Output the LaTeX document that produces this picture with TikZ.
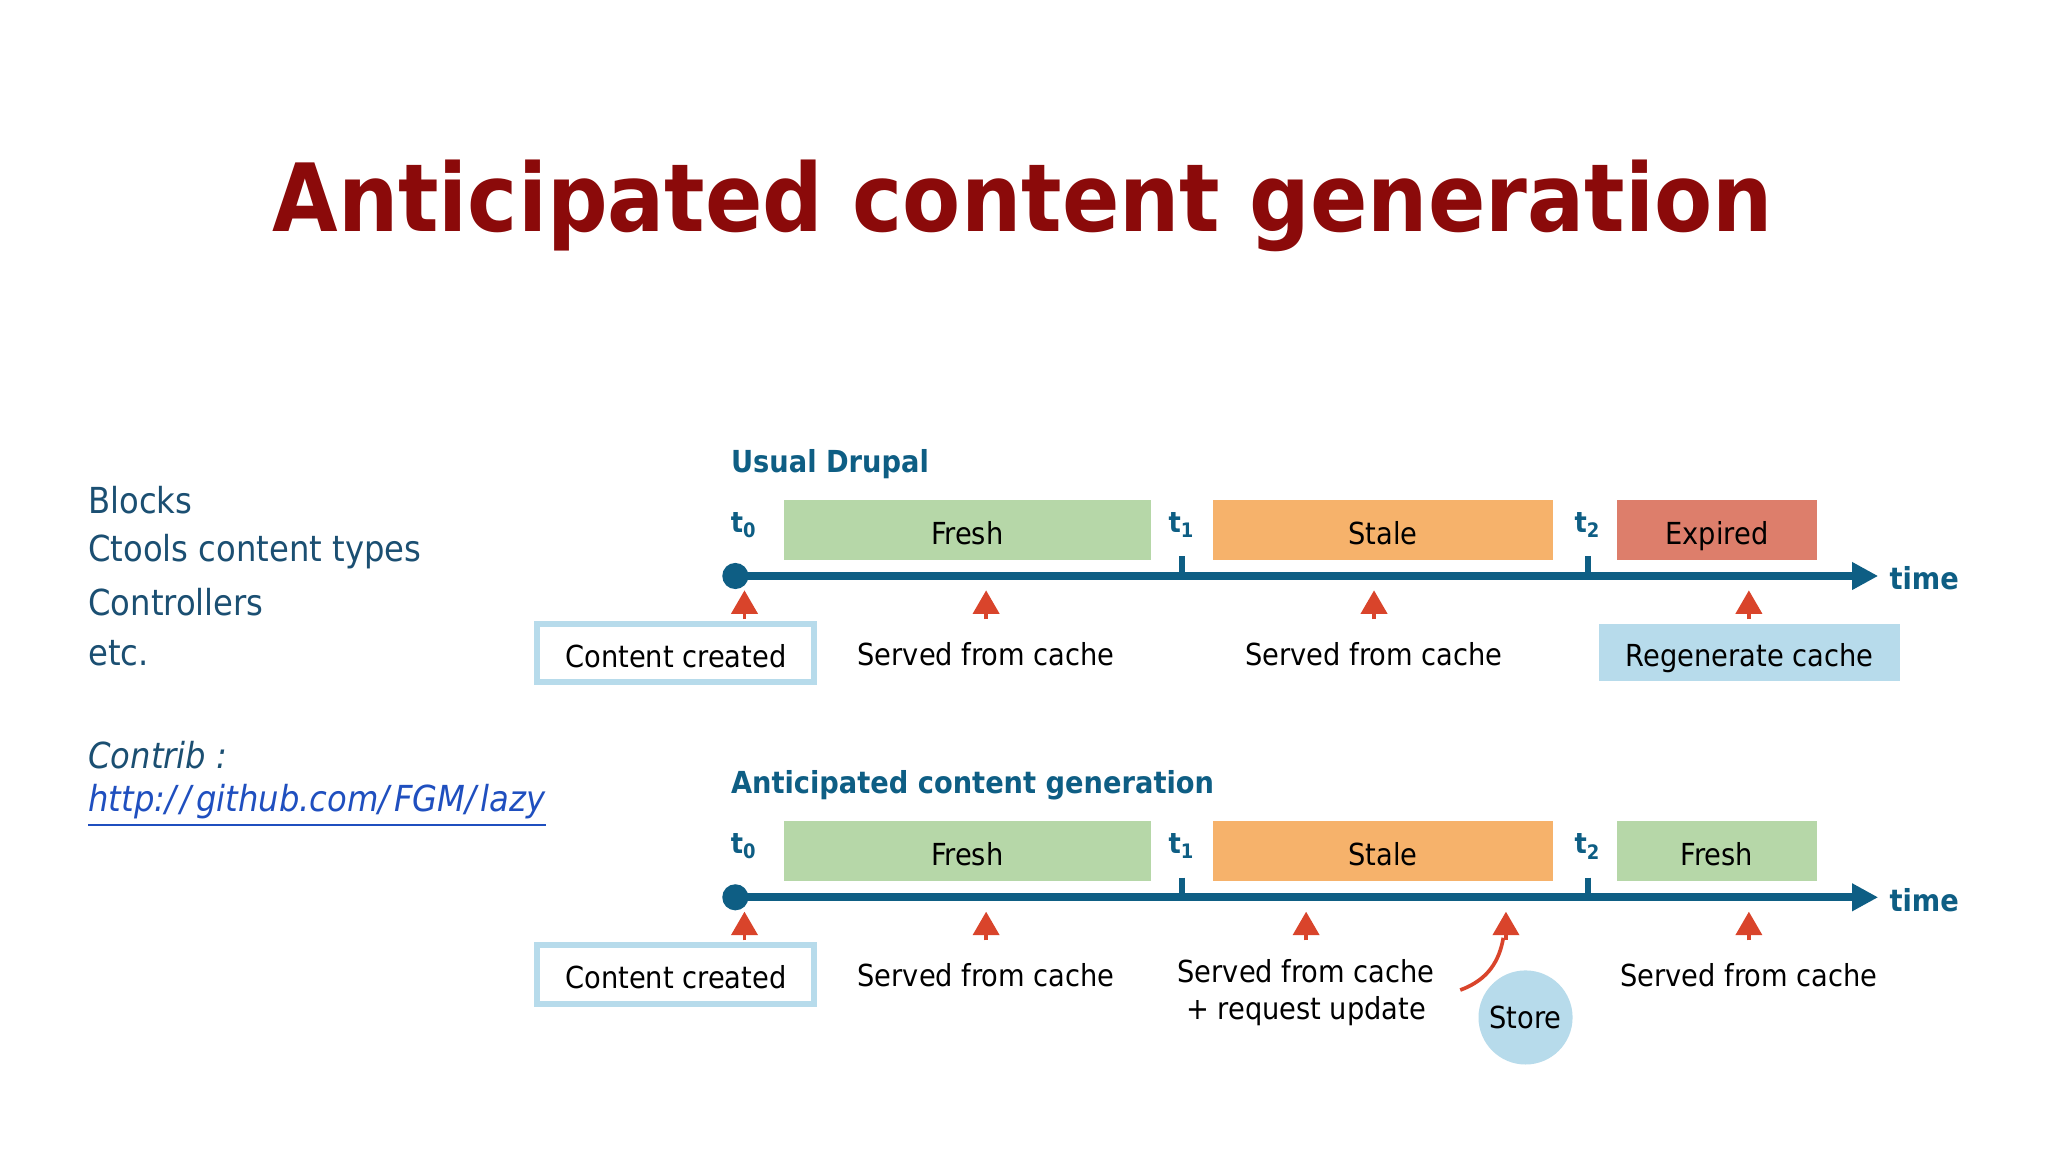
\documentclass[tikz,border=0pt]{standalone}
\usepackage{fontspec}
\setmainfont{DejaVu Sans Condensed}
\usetikzlibrary{arrows.meta}
\definecolor{titlec}{HTML}{8B0A0A}
\definecolor{teal}{HTML}{0E5E84}
\definecolor{txt}{HTML}{1B4F72}
\definecolor{fresh}{HTML}{B6D7A8}
\definecolor{stale}{HTML}{F6B26B}
\definecolor{expired}{HTML}{DD7E6B}
\definecolor{lblue}{HTML}{B7DBEB}
\definecolor{redc}{HTML}{D9442B}
\definecolor{link}{HTML}{1F4FBF}
\begin{document}
\begin{tikzpicture}[x=0.01cm,y=-0.01cm,
  bar/.style={minimum height=0.46cm,inner sep=0pt,text height=1.6ex,text depth=0.45ex,font=\fontsize{6.6}{8}\selectfont},
  lbl/.style={font=\fontsize{6.6}{8}\selectfont,inner sep=1pt},
  tl/.style={font=\fontsize{6.2}{8}\selectfont\bfseries,text=teal},
  tick/.style={teal,line width=1.2pt},
  up/.style={-{Triangle[width=0.2cm,length=0.18cm]},redc,line width=0.8pt},
  box/.style={draw=lblue,line width=1.3pt,inner sep=0pt,minimum width=2.12cm,minimum height=0.45cm,text height=1.6ex,text depth=0.45ex,font=\fontsize{6.6}{8}\selectfont},
  left/.style={anchor=west,font=\fontsize{7.8}{9}\selectfont,text=txt,inner sep=0pt}]
\fill[white] (0,0) rectangle (1568,882);
\useasboundingbox (0,0) rectangle (1568,882);
\node[font=\fontsize{20.5}{26}\selectfont\bfseries,text=titlec] (title) at (783,158) {Anticipated content generation};
\node[left] (l1) at (67,383) {Blocks};
\node[left] (l2) at (67,422) {Ctools content types};
\node[left] (l3) at (67,461) {Controllers};
\node[left] (l4) at (67,500) {etc.};
\node[left,font=\fontsize{7.8}{9}\selectfont\itshape] (c1) at (67,578) {Contrib :};
\node[left,font=\fontsize{7.8}{9}\selectfont\itshape,text=link] (c2) at (67,617) {\underline{http:/\kern1pt/\kern1pt github.com/\kern1pt FGM/\kern1pt lazy}};
\foreach \o/\nm/\lastc/\lastt in {0/a/expired/Expired,246/b/fresh/Fresh}{
  \begin{scope}[yshift=-\o*0.01cm]
  \node[bar,fill=fresh,minimum width=2.81cm] (\nm f) at (740.5,405.5) {Fresh};
  \node[bar,fill=stale,minimum width=2.6cm] (\nm s) at (1059,405.5) {Stale};
  \node[bar,fill=\lastc,minimum width=1.53cm] (\nm e) at (1314.5,405.5) {\lastt};
  \node[tl] (\nm t0) at (570,402) {t\textsubscript{0}};
  \node[tl] (\nm t1) at (905,402) {t\textsubscript{1}};
  \node[tl] (\nm t2) at (1216,402) {t\textsubscript{2}};
  \coordinate (\nm o) at (563,441);
  \coordinate (\nm end) at (1438,441);
  \draw[teal,line width=1.8pt,-{Triangle[width=0.2cm,length=0.2cm]}] (\nm o) -- (\nm end);
  \fill[teal] (\nm o) circle (0.1cm);
  \node[tl,font=\fontsize{6.6}{8}\selectfont\bfseries,anchor=west,inner sep=0pt] (\nm time) at (1446,443) {time};
  \draw[tick] (905,426) -- (905,441);
  \draw[tick] (1216,426) -- (1216,441);
  \node[box] (\nm cc) at (517.5,500) {Content created};
  \end{scope}
}
\foreach \x in {570,755,1052,1339}{\draw[up] (\x,474) -- (\x,452);}
\node[lbl] (a1) at (755,501) {Served from cache};
\node[lbl] (a2) at (1052,501) {Served from cache};
\node[lbl,fill=lblue,inner sep=0pt,minimum width=2.31cm,minimum height=0.43cm,text height=1.6ex,text depth=0.45ex] (a3) at (1339.5,499.5) {Regenerate cache};
\node[tl,font=\fontsize{6.6}{8}\selectfont\bfseries,anchor=west,inner sep=0pt] (h1) at (559,355) {Usual Drupal};
\node[tl,font=\fontsize{6.6}{8}\selectfont\bfseries,anchor=west,inner sep=0pt] (h2) at (559,601) {Anticipated content generation};
\foreach \x in {570,755,1000,1153,1339}{\draw[up] (\x,720) -- (\x,698);}
\node[lbl] (b1) at (755,747) {Served from cache};
\node[lbl,align=center,font=\fontsize{6.6}{8.2}\selectfont] (b2) at (1000,760) {Served from cache\\+ request update};
\node[lbl] (b3) at (1339,747) {Served from cache};
\node[circle,fill=lblue,minimum size=0.72cm,inner sep=0pt,font=\fontsize{6.6}{8}\selectfont] (store) at (1168,779) {Store};
\draw[redc,line width=0.8pt] (1118,758) .. controls (1140,750) and (1148,735) .. (1151,718);
\end{tikzpicture}
\end{document}
